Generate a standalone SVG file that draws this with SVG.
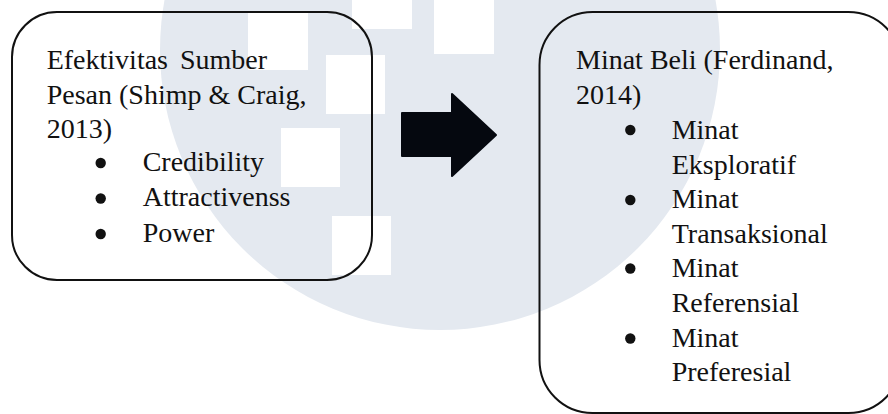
<svg xmlns="http://www.w3.org/2000/svg" width="888" height="414" viewBox="0 0 888 414">
  <style>
    .box { fill: none; stroke: #111; stroke-width: 2; }
    .t { font-family: "Liberation Serif", "Times New Roman", serif; font-size: 28px; fill: #111111; }
    .wm { fill: #e4e9f0; }
    .sq { fill: #ffffff; }
    .dot { fill: #111; }
  </style>
  <rect width="888" height="414" fill="#ffffff"/>
  <g id="watermark">
    <circle class="wm" cx="440" cy="50" r="280"/>
    <rect class="sq" x="248" y="11" width="60" height="59"/>
    <rect class="sq" x="326" y="55" width="59" height="59"/>
    <rect class="sq" x="281" y="128" width="59" height="59"/>
    <rect class="sq" x="332" y="216" width="59" height="59"/>
    <rect class="sq" x="352" y="0" width="60" height="29"/>
    <rect class="sq" x="434" y="0" width="60" height="54"/>
  </g>
  <g id="source-effectiveness">
    <rect class="box" x="12" y="12" width="360" height="268" rx="45" ry="45"/>
    <text class="t" x="46.7" y="68.5" word-spacing="5">Efektivitas Sumber</text>
    <text class="t" x="46.7" y="103.5">Pesan (Shimp &amp; Craig,</text>
    <text class="t" x="46.7" y="138">2013)</text>
    <circle class="dot" cx="100.7" cy="163" r="5.2"/>
    <text class="t" x="142.7" y="170.5">Credibility</text>
    <circle class="dot" cx="100.7" cy="198.5" r="5.2"/>
    <text class="t" x="142.7" y="206">Attractivenss</text>
    <circle class="dot" cx="100.7" cy="234" r="5.2"/>
    <text class="t" x="142.7" y="241.5">Power</text>
  </g>
  <g id="purchase-intention">
    <rect class="box" x="539.5" y="12" width="362" height="401" rx="53" ry="53"/>
    <text class="t" x="576" y="68.5">Minat Beli (Ferdinand,</text>
    <text class="t" x="576" y="103.8">2014)</text>
    <circle class="dot" cx="630.3" cy="130" r="5.2"/>
    <text class="t" x="671.7" y="139">Minat</text>
    <text class="t" x="671.7" y="173.5">Eksploratif</text>
    <circle class="dot" cx="630.3" cy="200" r="5.2"/>
    <text class="t" x="671.7" y="208.3">Minat</text>
    <text class="t" x="671.7" y="242.5">Transaksional</text>
    <circle class="dot" cx="630.3" cy="268.5" r="5.2"/>
    <text class="t" x="671.7" y="277">Minat</text>
    <text class="t" x="671.7" y="311.8">Referensial</text>
    <circle class="dot" cx="630.3" cy="338.5" r="5.2"/>
    <text class="t" x="671.7" y="346.7">Minat</text>
    <text class="t" x="671.7" y="381">Preferesial</text>
  </g>
  <g id="connectors">
    <path d="M402,113 L452,113 L452,94 L496,135 L452,176 L452,156 L402,156 Z" fill="#05080f" stroke="#05080f" stroke-width="2" stroke-linejoin="round"/>
  </g>
</svg>
